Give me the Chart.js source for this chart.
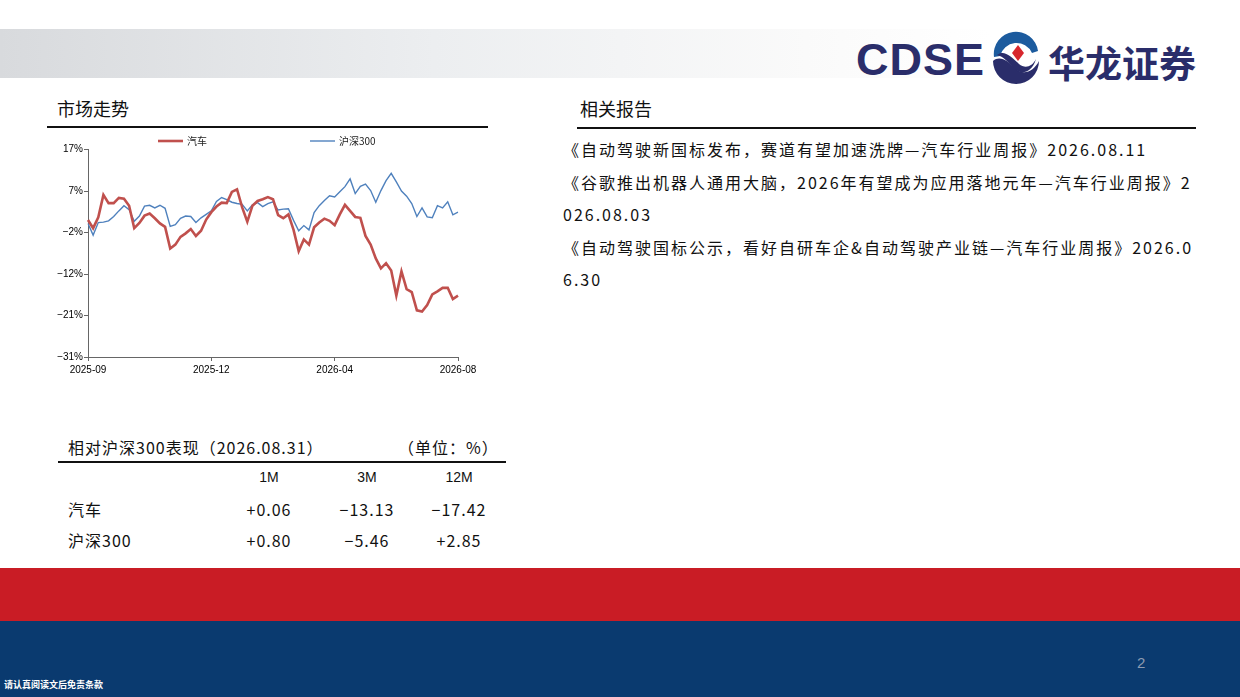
<!DOCTYPE html>
<html>
<head>
<meta charset="utf-8">
<script src="https://cdn.jsdelivr.net/npm/chart.js@4"></script>
<style>
  body { margin: 0; width: 1240px; height: 697px; position: relative; background: #fff; overflow: hidden;
         font-family: "Noto Sans CJK SC", sans-serif; color: #111; }
  .abs { position: absolute; white-space: nowrap; }
  .band { position: absolute; left: 0; top: 29px; width: 1240px; height: 49px;
          background: linear-gradient(to right, #d8dadd 0%, #eceef0 35%, #fafafa 65%, #fff 80%); }
  .rule { position: absolute; height: 2px; background: #111; }
  .sec { font-size: 18px; top: 95px; }
  .rep { font-size: 16px; left: 563px; letter-spacing: 2px; }
  .cell { position: absolute; font-size: 16px; letter-spacing: 1px; transform: translateX(-50%); white-space: nowrap; }
  .hd { position: absolute; font-family: "Liberation Sans", Arial, sans-serif; font-size: 14px; transform: translateX(-50%); }
</style>
</head>
<body>
<div class="band"></div>
<!-- logo -->
<div class="abs" style="left:856px;top:34px;font-family:'Liberation Sans',Arial,sans-serif;font-weight:bold;font-size:45px;color:#2a2d6a;letter-spacing:1px;">CDSE</div>
<svg class="abs" style="left:988px;top:31px" width="56" height="56" viewBox="0 0 56 56">
  <path d="M6 26 A22 22 0 0 1 50 20 L44 22 A17 17 0 0 0 12 25 Z" fill="#1c5b9e"/>
  <path d="M5 30 C12 24 20 30 28 38 C36 45 46 40 51 30 A23 23 0 0 1 5 30 Z" fill="#2a2d6a"/>
  <path d="M9 24 C16 18 24 26 31 33 C37 38 44 36 48 28 C44 42 33 44 27 38 C21 32 15 25 9 24 Z" fill="#2a2d6a"/>
  <path d="M30 14 L36 22 L30 30 L24 22 Z" fill="#d7262d"/>
</svg>
<div class="abs" style="left:1048px;top:35px;font-weight:bold;font-size:37px;color:#2a2d6a;">华龙证券</div>

<div class="abs sec" style="left:57px;">市场走势</div>
<div class="rule" style="left:47px;top:126px;width:441px;"></div>
<div class="abs sec" style="left:580px;">相关报告</div>
<div class="rule" style="left:577px;top:127px;width:619px;"></div>

<div class="abs rep" style="top:137px;">《自动驾驶新国标发布，赛道有望加速洗牌—汽车行业周报》2026.08.11</div>
<div class="abs rep" style="top:170px;">《谷歌推出机器人通用大脑，2026年有望成为应用落地元年—汽车行业周报》2</div>
<div class="abs rep" style="top:202px;">026.08.03</div>
<div class="abs rep" style="top:235px;">《自动驾驶国标公示，看好自研车企&amp;自动驾驶产业链—汽车行业周报》2026.0</div>
<div class="abs rep" style="top:267px;">6.30</div>

<div style="position:absolute;left:40px;top:135px;width:450px;height:250px;"><canvas id="c"></canvas></div>

<!-- table -->
<div class="abs" style="left:68px;top:435px;font-size:16px;letter-spacing:1px;">相对沪深300表现（2026.08.31）</div>
<div class="abs" style="left:398px;top:435px;font-size:16px;letter-spacing:1px;">（单位：%）</div>
<div class="rule" style="left:58px;top:461px;width:448px;"></div>
<div id="tbl"></div>

<div style="position:absolute;left:0;top:568px;width:1240px;height:53px;background:#c91c25;"></div>
<div style="position:absolute;left:0;top:621px;width:1240px;height:76px;background:#0a3a6f;"></div>
<div class="abs" style="left:1137px;top:654px;font-size:15px;color:#8d9bb1;font-family:'Liberation Sans',Arial,sans-serif;">2</div>
<div class="abs" style="left:4px;top:678px;font-size:9px;color:#fff;font-weight:bold;">请认真阅读文后免责条款</div>

<script>
// 相对收益走势（%），等间隔采样
const tickLabels = ["2025-09", "2025-12", "2026-04", "2026-08"];
const seriesNames = ["汽车", "沪深300"];
const autoValues = [
  0.7, -1.2, 1.3, 6.5, 4.6, 4.6, 5.8, 5.6, 4.0, -1.2,
  0.0, 1.7, 2.2, 1.1, -0.1, -0.9, -5.9, -5.0, -3.2, -2.4,
  -1.4, -3.0, -1.8, 0.8, 2.5, 3.8, 4.7, 4.6, 7.2, 7.8,
  3.6, 0.3, 4.0, 5.1, 5.5, 6.0, 5.5, 1.8, 1.1, 2.0,
  -1.6, -6.5, -3.8, -5.0, -1.0, 0.1, 1.0, 0.5, -0.5, 2.0,
  4.2, 2.8, 1.4, 1.2, -3.0, -5.0, -8.2, -10.5, -9.3, -11.0,
  -16.8, -11.2, -15.3, -16.0, -20.2, -20.5, -19.0, -16.5, -15.8, -15.0,
  -15.0, -17.6, -16.8
];
const hs300Values = [
  -0.1, -2.8, 0.1, 0.2, 0.5, 1.5, 2.8, 4.0, 3.1, 0.4,
  1.6, 3.9, 4.1, 3.5, 4.1, 3.4, -0.8, -0.4, 1.1, 1.6,
  1.5, 0.1, 1.2, 2.0, 2.8, 5.0, 5.9, 5.4, 4.8, 4.5,
  4.3, 2.8, 4.2, 4.7, 3.8, 4.5, 4.9, 3.0, 3.2, 3.3,
  0.6, -1.8, -0.6, -1.6, 2.4, 4.0, 5.2, 6.3, 6.0, 7.2,
  8.4, 10.2, 6.8, 8.5, 9.0, 7.5, 4.8, 7.5, 9.8, 11.5,
  9.5, 7.4, 6.2, 4.5, 1.5, 3.5, 1.4, 1.2, 4.0, 3.5,
  4.9, 1.9, 2.5
];
const labelIndex = [0, 24, 48, 72];

// 表格
const periods = ["1M", "3M", "12M"];
const rowNames = ["汽车", "沪深300"];
const rowValues = [["+0.06", "−13.13", "−17.42"], ["+0.80", "−5.46", "+2.85"]];
const colX = [269, 367, 459];

const tbl = document.getElementById("tbl");
let html = "";
periods.forEach((p, i) => {
  html += `<div class="hd" style="left:${colX[i]}px;top:469px;">${p}</div>`;
});
rowNames.forEach((name, r) => {
  const top = 497 + r * 31;
  html += `<div class="abs" style="left:68px;top:${top}px;font-size:16px;letter-spacing:1px;">${name}</div>`;
  rowValues[r].forEach((v, i) => {
    html += `<div class="cell" style="left:${colX[i]}px;top:${top}px;">${v}</div>`;
  });
});
tbl.innerHTML = html;

// 图例（画在画布顶部）
const legendX = [118, 270];
const legendPlugin = {
  id: "topLegend",
  afterDraw(chart) {
    const c = chart.ctx;
    c.save();
    chart.data.datasets.forEach((ds, i) => {
      const x = legendX[i];
      const y = 6;
      c.strokeStyle = ds.borderColor;
      c.lineWidth = ds.borderWidth;
      c.beginPath();
      c.moveTo(x, y);
      c.lineTo(x + 25, y);
      c.stroke();
      c.fillStyle = "#222";
      c.font = "10px 'Noto Sans CJK SC'";
      c.textBaseline = "middle";
      c.fillText(ds.label, x + 29, y);
    });
    c.restore();
  },
};

const labels = autoValues.map((_, i) => i);

new Chart(document.getElementById("c"), {
  type: "line",
  data: {
    labels,
    datasets: [
      { label: seriesNames[0], data: autoValues, borderColor: "#c0504d", backgroundColor: "#c0504d", borderWidth: 2.6, pointRadius: 0, tension: 0 },
      { label: seriesNames[1], data: hs300Values, borderColor: "#4f81bd", backgroundColor: "#4f81bd", borderWidth: 1.4, pointRadius: 0, tension: 0 },
    ],
  },
  options: {
    responsive: true,
    maintainAspectRatio: false,
    animation: false,
    layout: { padding: { top: 14.5, right: 32, left: 0, bottom: 0 } },
    plugins: { legend: { display: false }, tooltip: { enabled: false } },
    scales: {
      x: {
        afterFit: (s) => { s.height = 28; },
        grid: { drawOnChartArea: false, drawTicks: true, tickLength: 4, color: "#666" },
        border: { color: "#666", width: 1 },
        ticks: {
          autoSkip: false,
          maxRotation: 0,
          padding: 3,
          color: "#000",
          font: { family: "'Liberation Sans', Arial", size: 10 },
          callback: (v, i) => {
            const k = labelIndex.indexOf(i);
            return k >= 0 ? tickLabels[k] : null;
          },
        },
      },
      y: {
        min: -31,
        max: 17,
        afterFit: (s) => { s.width = 48; },
        grid: { drawOnChartArea: false, drawTicks: true, tickLength: 4, color: "#666" },
        border: { color: "#666", width: 1 },
        ticks: {
          stepSize: 9.6,
          padding: 1,
          color: "#000",
          font: { family: "'Liberation Sans', Arial", size: 10 },
          callback: (v) => {
            const n = Math.round(v);
            return (n < 0 ? "−" + Math.abs(n) : n) + "%";
          },
        },
      },
    },
  },
  plugins: [legendPlugin],
});
</script>
</body>
</html>
